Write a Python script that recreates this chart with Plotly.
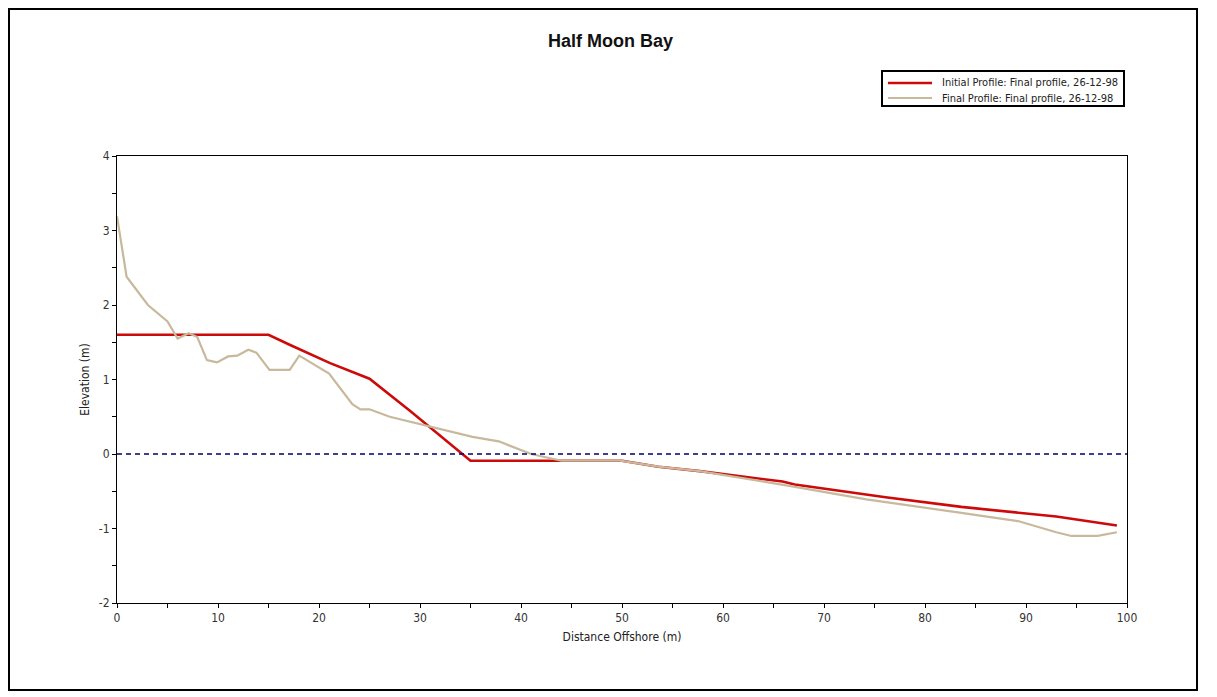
import plotly.graph_objects as go

# Initial profile (red)
initial_x = [0, 15, 17.2, 21.1, 25, 29, 35, 44, 50, 53.6, 57.7, 65.9, 67.1, 76.1, 83.6, 93, 99]
initial_y = [1.6, 1.6, 1.46, 1.22, 1.01, 0.58, -0.09, -0.09, -0.09, -0.17, -0.23, -0.37, -0.41, -0.58, -0.71, -0.84, -0.96]

# Final profile (beige)
final_x = [0, 0.95, 3.06, 5.0, 6.0, 7.1, 7.95, 8.9, 9.9, 11.0, 11.9, 13.0, 13.8, 15.1, 17.1, 18.05,
           21.0, 23.3, 24.1, 25.0, 27.0, 30.9, 35.2, 37.8, 41.0, 44.0, 49.8, 53.6, 57.7, 66.7,
           74.2, 83.6, 89.2, 93.0, 94.5, 97.1, 99.0]
final_y = [3.19, 2.38, 2.0, 1.78, 1.55, 1.62, 1.57, 1.26, 1.23, 1.31, 1.32, 1.40, 1.36, 1.13, 1.13, 1.32,
           1.08, 0.67, 0.60, 0.60, 0.50, 0.37, 0.23, 0.17, 0.0, -0.09, -0.09, -0.17, -0.23, -0.43,
           -0.61, -0.79, -0.90, -1.05, -1.10, -1.10, -1.05]

series_names = ["Initial Profile: Final profile, 26-12-98", "Final Profile: Final profile, 26-12-98"]
series_colors = ["#CC0A0A", "#C8B89C"]

x_ticks = [0, 10, 20, 30, 40, 50, 60, 70, 80, 90, 100]
y_ticks = [-2, -1, 0, 1, 2, 3, 4]

FONT = "Liberation Sans Narrow, Arial Narrow, DejaVu Sans Condensed, Liberation Sans, Arial, sans-serif"

# page body has an 8px margin; work in reference-page pixels and shift
OFF = 8
W, H = 1217 - OFF, 697 - OFF
L, R, T, B = 117 - OFF, 1127 - OFF, 156 - OFF, 603 - OFF
PW, PH = R - L, B - T


def px(xp):
    return (xp - OFF - L) / PW


def py(yp):
    return (B - (yp - OFF)) / PH


fig = go.Figure()
fig.add_trace(go.Scatter(x=initial_x, y=initial_y, mode="lines", name=series_names[0],
                         line=dict(color=series_colors[0], width=2.6), showlegend=False))
fig.add_trace(go.Scatter(x=final_x, y=final_y, mode="lines", name=series_names[1],
                         line=dict(color=series_colors[1], width=2.2), showlegend=False))

fig.add_hline(y=0, line=dict(color="#00006E", width=1.3, dash="5px,4px"))

# outer frame
fig.add_shape(type="rect", xref="paper", yref="paper",
              x0=px(9), x1=px(1197), y0=py(690), y1=py(9),
              line=dict(color="black", width=2), fillcolor="rgba(0,0,0,0)")

# legend box
fig.add_shape(type="rect", xref="paper", yref="paper",
              x0=px(882), x1=px(1124), y0=py(106), y1=py(71),
              line=dict(color="black", width=2), fillcolor="white")
legend_rows = [83, 98]
for name, color, yy, w in zip(series_names, series_colors, legend_rows, [2.6, 2.2]):
    fig.add_shape(type="line", xref="paper", yref="paper",
                  x0=px(888), x1=px(932), y0=py(yy), y1=py(yy),
                  line=dict(color=color, width=w))
    fig.add_annotation(text=name, xref="paper", yref="paper", x=px(940), y=py(yy),
                       xanchor="left", yanchor="middle", showarrow=False,
                       font=dict(family=FONT, size=11, color="#222222"))

fig.add_annotation(text="<b>Half Moon Bay</b>", xref="paper", yref="paper",
                   x=px(610), y=py(41), xanchor="center", yanchor="middle",
                   showarrow=False,
                   font=dict(family="Liberation Sans, Arial, sans-serif", size=18, color="#111111"))

fig.update_layout(
    width=W, height=H,
    margin=dict(l=L, r=W - R, t=T, b=H - B, autoexpand=False),
    paper_bgcolor="white", plot_bgcolor="white",
    font=dict(family=FONT, size=12, color="#222222"),
    showlegend=False,
)

fig.update_xaxes(range=[0, 100], tickvals=x_ticks, ticktext=[str(v) for v in x_ticks],
                 showline=True, linecolor="black", linewidth=1, mirror=True,
                 ticks="outside", ticklen=4, tickcolor="black",
                 minor=dict(dtick=5, tick0=0, ticks="outside", ticklen=4, tickcolor="black"),
                 showgrid=False, zeroline=False, automargin=False,
                 title=dict(text="Distance Offshore (m)", standoff=8, font=dict(family=FONT, size=12)),
                 tickfont=dict(family=FONT, size=12, color="#333333"))
fig.update_yaxes(range=[-2, 4], tickvals=y_ticks, ticktext=[str(v) for v in y_ticks],
                 showline=True, linecolor="black", linewidth=1, mirror=True,
                 ticks="outside", ticklen=4, tickcolor="black",
                 minor=dict(dtick=0.5, tick0=0, ticks="outside", ticklen=4, tickcolor="black"),
                 showgrid=False, zeroline=False, automargin=False,
                 title=dict(text="Elevation (m)", standoff=6, font=dict(family=FONT, size=12)),
                 tickfont=dict(family=FONT, size=12, color="#333333"))

fig.write_html("out.html")
